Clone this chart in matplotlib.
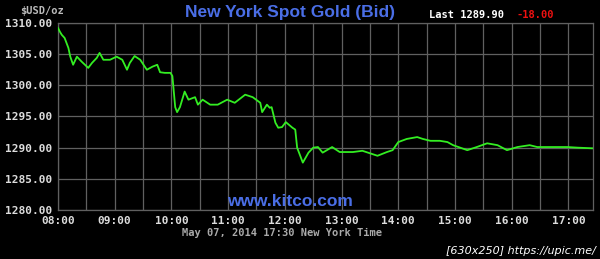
import numpy as np
import pandas as pd
import matplotlib
matplotlib.use("Agg")
import matplotlib.pyplot as plt
import matplotlib.dates as mdates

# Spot gold bid, New York, May 07 2014
times = ["08:00", "08:02", "08:04", "08:07", "08:11", "08:13", "08:16", "08:20", "08:25",
         "08:32", "08:36", "08:41", "08:44", "08:48", "08:55", "09:02", "09:08", "09:13",
         "09:16", "09:21", "09:27", "09:34", "09:40", "09:45", "09:48", "09:53", "09:59",
         "10:01", "10:04", "10:06", "10:09", "10:14", "10:18", "10:25", "10:28", "10:33",
         "10:41", "10:49", "10:59", "11:07", "11:18", "11:26", "11:34", "11:36", "11:41",
         "11:44", "11:46", "11:50", "11:53", "11:57", "12:01", "12:08", "12:11", "12:13",
         "12:18", "12:19", "12:25", "12:30", "12:35", "12:40", "12:50", "12:58", "13:12",
         "13:22", "13:38", "13:48", "13:54", "14:00", "14:09", "14:20", "14:26", "14:34",
         "14:44", "14:52", "14:58", "15:13", "15:23", "15:34", "15:45", "15:55", "16:06",
         "16:19", "16:27", "16:41", "16:59", "17:10", "17:25"]
prices = [1309.2, 1308.6, 1308.1, 1307.6, 1306.0, 1304.6, 1303.3, 1304.6, 1303.8,
          1302.8, 1303.6, 1304.4, 1305.2, 1304.1, 1304.1, 1304.6, 1304.1, 1302.5,
          1303.6, 1304.7, 1304.1, 1302.5, 1303.0, 1303.3, 1302.1, 1302.0, 1302.0,
          1301.5, 1296.5, 1295.7, 1296.5, 1299.0, 1297.7, 1298.1, 1296.9, 1297.7,
          1296.9, 1296.9, 1297.7, 1297.2, 1298.5, 1298.1, 1297.2, 1295.7, 1296.9,
          1296.4, 1296.5, 1294.0, 1293.2, 1293.3, 1294.1, 1293.2, 1292.9, 1290.0,
          1288.0, 1287.6, 1289.2, 1290.0, 1290.1, 1289.2, 1290.1, 1289.3, 1289.3,
          1289.5, 1288.7, 1289.3, 1289.6, 1290.9, 1291.4, 1291.7, 1291.4, 1291.1,
          1291.1, 1290.9, 1290.4, 1289.6, 1290.1, 1290.7, 1290.4, 1289.6, 1290.1,
          1290.4, 1290.1, 1290.1, 1290.1, 1290.0, 1289.9]

y_ticks = [1280, 1285, 1290, 1295, 1300, 1305, 1310]
last_price = "1289.90"
change = "-18.00"

DAY = "2014-05-07 "
t = pd.to_datetime([DAY + s for s in times])

BG = "black"
GRID = "#606060"
LINE = "#33ee22"
BLUE = "#4a6ee6"
MONO = "DejaVu Sans Mono"

fig = plt.figure(figsize=(6.0, 2.59), dpi=100, facecolor=BG)
ax = fig.add_axes([58 / 600, 1 - 210 / 259, (593 - 58) / 600, (210 - 23) / 259])
ax.set_facecolor(BG)

ax.plot(t, prices, color=LINE, linewidth=1.3, zorder=3)

ax.set_xlim(pd.Timestamp(DAY + "08:00"), pd.Timestamp(DAY + "17:26"))
ax.set_ylim(1280, 1310)

ax.set_yticks(y_ticks)
ax.set_yticklabels([f"{v:.2f}" for v in y_ticks])
ax.xaxis.set_major_locator(mdates.HourLocator())
ax.xaxis.set_minor_locator(mdates.MinuteLocator(byminute=[30]))
ax.xaxis.set_major_formatter(mdates.DateFormatter("%H:%M"))

ax.grid(True, which="both", axis="x", color=GRID, linewidth=0.9)
ax.grid(True, which="major", axis="y", color=GRID, linewidth=0.9)
ax.set_axisbelow(True)
for sp in ax.spines.values():
    sp.set_color(GRID)
    sp.set_linewidth(0.9)

ax.tick_params(which="both", length=0, colors="#dddddd")
for lab in ax.get_yticklabels() + ax.get_xticklabels():
    lab.set_fontfamily(MONO)
    lab.set_fontweight("bold")
    lab.set_fontsize(8)
ax.tick_params(axis="y", pad=4)
ax.tick_params(axis="x", pad=4.5)

# header texts
fig.text(20 / 600, 1 - 11 / 259, "$USD/oz", color="#bbbbbb", fontfamily=MONO,
         fontsize=7.5, fontweight="bold", ha="left", va="center")
fig.text(290 / 600, 1 - 13 / 259, "New York Spot Gold (Bid)", color=BLUE,
         fontfamily="Liberation Sans", fontsize=12.5, fontweight="bold",
         ha="center", va="center")
fig.text(429 / 600, 1 - 15 / 259, f"Last {last_price}", color="white",
         fontfamily=MONO, fontsize=7.5, fontweight="bold", ha="left", va="center")
fig.text(517 / 600, 1 - 15 / 259, change, color="#ee1111",
         fontfamily=MONO, fontsize=7.5, fontweight="bold", ha="left", va="center")

# watermark + footer
ax.text((290 - 58) / 535, 0.045, "www.kitco.com", transform=ax.transAxes, color=BLUE,
        fontfamily="Liberation Sans", fontsize=12.5, fontweight="bold",
        ha="center", va="center", zorder=4)
fig.text(282 / 600, 1 - 233 / 259, "May 07, 2014 17:30 New York Time", color="#aaaaaa",
         fontfamily=MONO, fontsize=7.5, fontweight="bold", ha="center", va="center")
fig.text(596 / 600, 1 - 251 / 259, "[630x250] https://upic.me/", color="white",
         fontfamily="DejaVu Sans", fontsize=8, fontstyle="italic",
         ha="right", va="center")

fig.savefig("out.png", dpi=100, facecolor=BG)
